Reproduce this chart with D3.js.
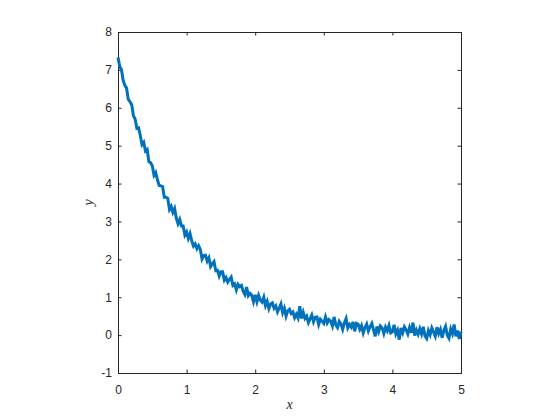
<!DOCTYPE html>
<html>
<head>
<meta charset="utf-8"/>
<title>Noisy decay</title>
<style>
  * { margin: 0; padding: 0; }
  body { background: #fff; }
  svg { display: block; }
  .tick text { font-family: "Liberation Sans", Arial, sans-serif; font-size: 12px; fill: #262626; }
  .tick line, .domain { stroke: #262626; }
  text.axlabel { font-family: "Liberation Serif", "DejaVu Serif", serif; font-style: italic; font-size: 14px; fill: #262626; }
</style>
<script src="https://d3js.org/d3.v7.min.js"></script>
</head>
<body>
<svg id="chart" width="560" height="420"></svg>
<script>
// sample spacing along x (0 .. 5)
const xStep = 0.025;
// y values, one per x step
const yValues = [
  7.33, 7.09, 7.01, 6.73,
  6.59, 6.52, 6.22, 6.16,
  6.08, 5.79, 5.70, 5.46,
  5.47, 5.27, 5.03, 5.09,
  4.86, 4.90, 4.58, 4.55,
  4.47, 4.22, 4.29, 4.10,
  3.95, 3.94, 3.92, 3.64,
  3.64, 3.61, 3.32, 3.40,
  3.24, 3.34, 3.09, 2.94,
  3.05, 2.88, 2.88, 2.64,
  2.72, 2.55, 2.68, 2.49,
  2.35, 2.41, 2.28, 2.36,
  2.26, 2.01, 2.10, 2.11,
  1.95, 2.04, 1.81, 1.88,
  1.94, 1.70, 1.71, 1.56,
  1.67, 1.67, 1.45, 1.52,
  1.40, 1.47, 1.53, 1.31,
  1.35, 1.19, 1.34, 1.28,
  1.31, 1.15, 1.07, 1.27,
  1.04, 1.10, 1.05, 0.88,
  1.06, 0.88, 1.05, 0.92,
  0.87, 1.00, 0.78, 0.89,
  0.70, 0.82, 0.85, 0.71,
  0.77, 0.61, 0.71, 0.82,
  0.59, 0.71, 0.50, 0.64,
  0.68, 0.57, 0.61, 0.46,
  0.55, 0.45, 0.76, 0.44,
  0.60, 0.44, 0.50, 0.33,
  0.43, 0.53, 0.35, 0.47,
  0.48, 0.28, 0.42, 0.37,
  0.31, 0.48, 0.32, 0.41,
  0.37, 0.24, 0.48, 0.27,
  0.20, 0.36, 0.29, 0.15,
  0.33, 0.44, 0.19, 0.28,
  0.21, 0.35, 0.10, 0.31,
  0.29, 0.15, 0.25, 0.06,
  0.20, 0.29, 0.11, 0.22,
  0.31, 0.14, -0.03, 0.23,
  0.09, 0.24, 0.19, 0.04,
  0.21, 0.11, 0.25, 0.06,
  0.09, 0.27, 0.03, 0.13,
  -0.12, 0.19, 0.06, 0.22,
  0.14, 0.03, 0.20, 0.06,
  0.33, -0.01, 0.13, 0.02,
  0.17, 0.03, 0.22, -0.02,
  -0.09, 0.12, 0.01, 0.19,
  0.08, -0.03, 0.21, 0.04,
  0.15, -0.07, 0.12, 0.23,
  0.00, -0.08, 0.16, 0.04,
  0.28, -0.03, 0.12, -0.10,
  0.09
];
const xTicks = [0, 1, 2, 3, 4, 5];
const yTicks = [-1, 0, 1, 2, 3, 4, 5, 6, 7, 8];

const data = yValues.map((v, i) => ({ x: i * xStep, y: v }));

// plot box (matlab style axes)
const boxL = 118, boxR = 461, boxT = 32, boxB = 373;
const tickLen = 3.5;
const fmt = d => String(d);   // plain hyphen for -1, like the original

const svg = d3.select('#chart');

const xScale = d3.scaleLinear().domain([0, 5]).range([boxL, boxR]);
const yScale = d3.scaleLinear().domain([-1, 8]).range([boxB, boxT]);

// bottom axis with labels, ticks pointing inward
svg.append('g')
  .attr('transform', `translate(0, ${boxB})`)
  .call(d3.axisBottom(xScale).tickValues(xTicks).tickFormat(fmt).tickSizeInner(-tickLen).tickSizeOuter(0).tickPadding(12))
  .call(g => g.select('.domain').remove());

// top axis, ticks only
svg.append('g')
  .attr('transform', `translate(0, ${boxT})`)
  .call(d3.axisTop(xScale).tickValues(xTicks).tickSizeInner(-tickLen).tickSizeOuter(0).tickFormat(''))
  .call(g => g.select('.domain').remove());

// left axis
svg.append('g')
  .attr('transform', `translate(${boxL}, 0)`)
  .call(d3.axisLeft(yScale).tickValues(yTicks).tickFormat(fmt).tickSizeInner(-tickLen).tickSizeOuter(0).tickPadding(6))
  .call(g => g.select('.domain').remove());

// right axis, ticks only
svg.append('g')
  .attr('transform', `translate(${boxR}, 0)`)
  .call(d3.axisRight(yScale).tickValues(yTicks).tickSizeInner(-tickLen).tickSizeOuter(0).tickFormat(''))
  .call(g => g.select('.domain').remove());

// box around the axes
svg.append('rect')
  .attr('x', boxL + 0.5).attr('y', boxT + 0.5)
  .attr('width', boxR - boxL).attr('height', boxB - boxT)
  .attr('fill', 'none')
  .attr('stroke', '#262626')
  .attr('stroke-width', 1);

// the data line
const line = d3.line()
  .x(d => xScale(d.x))
  .y(d => yScale(d.y));

svg.append('path')
  .datum(data)
  .attr('d', line)
  .attr('fill', 'none')
  .attr('stroke', '#0072BD')
  .attr('stroke-width', 3)
  .attr('stroke-linejoin', 'miter');

// axis labels
svg.append('text')
  .attr('class', 'axlabel')
  .attr('x', (boxL + boxR) / 2)
  .attr('y', 409)
  .attr('text-anchor', 'middle')
  .text('x');

svg.append('text')
  .attr('class', 'axlabel')
  .attr('transform', `translate(93, ${(boxT + boxB) / 2}) rotate(-90)`)
  .attr('text-anchor', 'middle')
  .text('y');
</script>
</body>
</html>
